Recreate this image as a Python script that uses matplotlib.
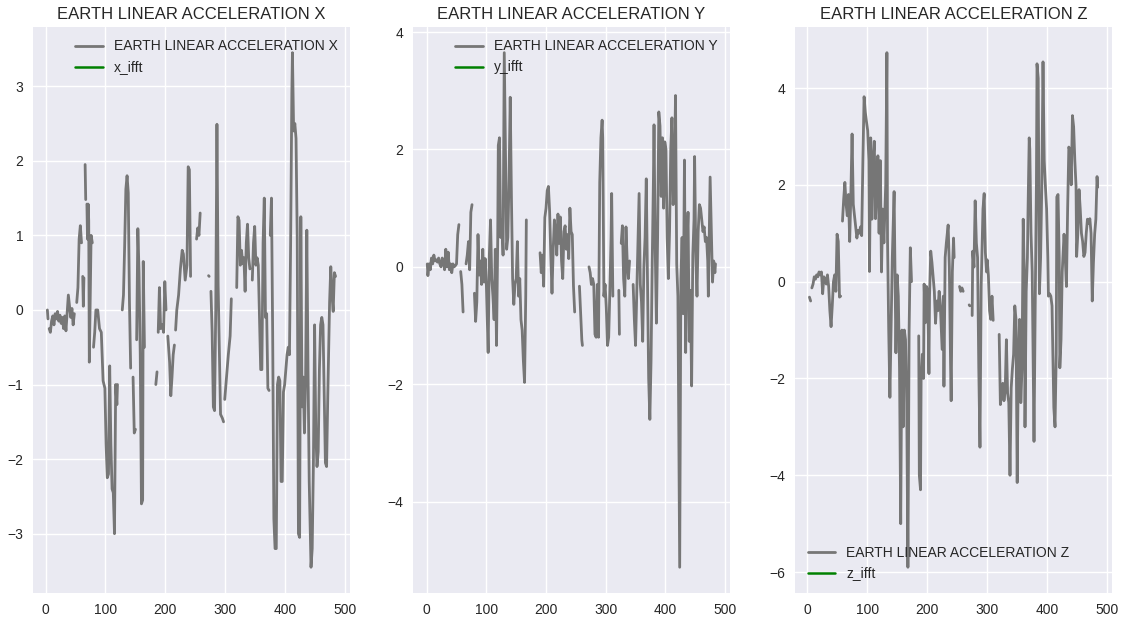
import numpy as np
import matplotlib
matplotlib.use("Agg")
import matplotlib.pyplot as plt

nan = np.nan

# earth-frame linear acceleration, sample index vs value (nan = dropped samples)
acc_x_t = [3, 4, 5, 6, 8, 10, 12, 14, 16, 18, 20, 22, 24, 26, 28, 30, 32, 34, 36, 38, 40, 42, 44, 46, 48,
           50, 52, 54, 56, 58, 60, 61, 62, 63, 64, 65, 66, 67, 68, 69, 70, 71, 72, 73, 75, 76, 78,
           79, 80, 82, 84, 87, 90, 93, 96, 99, 101, 103, 105, 107, 109, 111, 113, 115, 117, 119, 120,
           121, 128, 130, 132, 134, 136, 138, 140, 142, 144, 146, 148, 150, 151, 152, 154, 156, 158,
           160, 162, 163, 165, 166, 184, 186, 187, 188, 190, 192, 195, 197, 199, 201, 202, 204, 207,
           209, 211, 213, 215, 216, 217, 219, 222, 225, 228, 230, 233, 236, 238, 240, 242, 243, 252,
           254, 256, 258, 259, 272, 273, 274, 276, 278, 280, 282, 284, 286, 288, 290, 292, 295, 297,
           298, 299, 302, 305, 308, 310, 311, 319, 321, 323, 325, 327, 329, 331, 333, 335, 337, 339,
           341, 342, 345, 347, 349, 351, 353, 355, 357, 359, 361, 363, 365, 367, 369, 371, 373, 374,
           375, 377, 379, 381, 383, 385, 387, 389, 391, 393, 395, 397, 399, 401, 403, 405, 407, 409,
           411, 412, 414, 416, 418, 420, 422, 424, 426, 428, 430, 432, 434, 436, 438, 440, 443, 445,
           447, 449, 451, 453, 455, 457, 459, 461, 463, 465, 467, 469, 471, 474, 476, 478, 480, 482, 484]
acc_x = [0.0, -0.12, nan, -0.25, -0.3, -0.15, -0.08, -0.2, -0.05, -0.12, -0.02, -0.15, -0.07, -0.18, -0.1,
         -0.25, -0.08, -0.28, -0.05, 0.2, 0.05, -0.1, 0.02, -0.2, -0.05,
         nan, 0.1, 0.3, 0.95, 1.13, 0.9, nan, 0.45, 0.05, 0.43, nan, 1.95, 1.48, nan, 1.42, 0.95, 1.42,
         1.2, -0.7, 0.5, 1.0, 0.9,
         nan, -0.5, -0.3, 0.0, 0.0, -0.25, -0.3, -0.95, -1.05, -1.8, -2.25, -2.2, -0.75, -1.8, -2.4,
         -2.45, -3.0, -1.0, -1.27, -1.0,
         nan, 0.0, 0.2, 0.87, 1.62, 1.8, 1.57, 0.1, -0.78, nan, -0.9, -1.65, -1.6, nan, -0.4, 1.09,
         0.5, -0.6,
         -2.6, -2.55, 0.65, -0.5, nan, -1.0, -0.83, nan, -0.3, 0.3, -0.25, -0.2, -0.3, 0.38, 0.0, nan,
         -0.35, -0.7,
         -1.15, -0.9, -0.6, -0.47, nan, -0.27, 0.0, 0.2, 0.55, 0.8, 0.75, 0.4, 0.6, 1.92, 1.88, 0.45,
         nan, 0.95,
         1.1, 1.0, 1.3, nan, 0.46, 0.45, nan, 0.25, -0.3, -1.3, -1.35, 0.0, 2.49, 0.33, -0.5, -1.4,
         -1.45, -1.5,
         nan, -1.2, -0.9, -0.6, -0.35, 0.15, nan, 0.3, 1.25, 1.2, 0.6, 0.8, 0.62, 0.7, 0.25, 0.9,
         1.15, 0.7,
         0.55, nan, 0.4, 0.9, 1.12, 0.6, 0.7, 0.6, -0.1, -0.8, -0.8, 0.9, 1.5, -0.1, -0.05, -1.05,
         -1.08, nan,
         1.0, 1.5, -0.3, -2.8, -3.2, -3.2, -1.0, -0.9, -0.95, -2.3, -2.3, -1.1, -1.0, -0.8, -0.6,
         -0.5, -0.6, 0.9,
         2.9, 3.45, 2.4, 2.5, 2.3, 0.96, -3.0, -3.05, 1.25, -1.3, -0.9, -1.65, -0.9, 1.07, -0.8,
         -2.3, -3.45, -3.2,
         -2.05, -0.2, -1.65, -2.1, -1.9, -0.8, -0.2, -0.1, -0.2, -1.1, -2.05, -2.1, -1.15, 0.1, 0.58,
         0.2, -0.02, 0.5, 0.45]

acc_y_t = [1, 2, 4, 6, 8, 10, 12, 14, 16, 18, 20, 22, 24, 26, 28, 30, 32, 34, 36, 38, 40, 42, 44, 46, 48,
           50, 52, 54, 55, 57, 59, 61, 62, 63, 64, 66, 68, 70, 72, 74, 76, 77, 80, 82, 84, 86, 88, 90,
           92, 94, 96, 98, 100, 103, 105, 107, 109, 111, 113, 115, 117, 119, 120, 122, 124, 126, 128,
           130, 132, 134, 136, 138, 140, 142, 144, 146, 148, 150, 152, 154, 156, 158, 160, 162, 164,
           166, 167, 168, 184, 185, 187, 188, 190, 192, 194, 196, 198, 200, 202, 204, 206, 208, 210,
           212, 214, 216, 218, 220, 222, 224, 226, 228, 230, 232, 234, 236, 238, 240, 242, 244, 246,
           248, 249, 256, 258, 260, 261, 262, 272, 274, 276, 278, 280, 282, 284, 286, 288, 290, 292,
           294, 295, 297, 299, 301, 303, 305, 307, 309, 310, 312, 313, 322, 323, 324, 326, 328, 330,
           332, 334, 336, 338, 340, 341, 346, 348, 350, 352, 354, 356, 358, 360, 362, 364, 366, 368,
           370, 372, 374, 376, 378, 380, 381, 383, 385, 387, 389, 391, 393, 395, 397, 399, 401, 403,
           405, 407, 409, 411, 413, 415, 417, 419, 421, 424, 426, 428, 430, 432, 434, 436, 438, 440,
           442, 444, 446, 448, 449, 451, 453, 455, 457, 459, 461, 463, 465, 467, 469, 471, 472, 474,
           475, 477, 479, 481, 483, 484]
acc_y = [0.05, -0.15, 0.05, -0.05, 0.15, 0.05, 0.2, 0.1, 0.12, 0.08, 0.15, 0.05, 0.0, 0.15, 0.1, -0.05,
         0.3, 0.0, 0.25, -0.05, 0.05, -0.1, 0.05, 0.0, 0.02,
         0.05, 0.55, 0.72, nan, -0.08, -0.3, -0.77, nan, -0.3, nan, 0.05, 0.2, 0.43, -0.05, 0.93, 1.06,
         nan, -0.45, -0.93, -0.6, 0.55, -0.14, 0.1,
         -0.3, 0.3, -0.26, 0.14, -0.3, -1.46, 0.2, 0.8, -0.2, -0.5, -0.9, 0.3, -1.34, 0.43, 2.07, 2.2,
         0.5, 0.8, 0.2,
         3.65, 2.0, 0.3, 0.5, 1.5, 2.89, 1.2, -0.2, -0.64, -0.3, -0.2, 0.43, -0.5, -0.2, -0.9, -1.08,
         -1.6, -1.97,
         -0.5, 0.8, nan, -0.67, nan, -0.93, nan, 0.24, -0.1, 0.2, -0.33, 0.84, 1.0, 1.3, 1.37, 0.95,
         0.2, -0.45,
         0.3, 0.8, 0.6, 0.2, 0.9, 0.4, 0.85, 0.1, -0.2, 0.6, 0.7, 0.3, 0.55, 0.14, 1.0, 0.6, 0.55,
         -0.33,
         -0.77, nan, -0.33, -0.8, -1.25, -1.34, nan, 0.0, -0.1, -0.3, -0.2, -0.3, -1.15, -1.2, -0.3,
         -1.2, 1.44, 2.2,
         2.5, 2.2, -0.5, -0.3, -0.7, -1.34, -1.2, -0.4, 0.5, 1.25, -0.5, nan, -0.4, -1.15, nan, 0.4,
         0.7, -0.2,
         -0.5, 0.68, 0.1, -0.2, 0.1, nan, -0.3, -0.9, -1.34, -0.5, 0.3, 1.25, -0.3, -0.6, -1.27, 0.0,
         0.5, 1.5,
         -0.2, -1.9, -2.6, -1.6, 0.1, 1.5, 2.42, 0.3, -0.96, 0.5, 2.64, 2.4, 1.2, 2.2, 1.0, 2.13, 2.0,
         0.5,
         -0.2, 0.6, 2.0, 2.54, 1.06, 1.5, 2.92, 0.05, -0.5, -5.12, -0.2, 0.5, -0.8, 1.82, -1.46, 0.3,
         0.93, -1.27,
         -0.4, -2.03, 0.2, 0.8, 1.88, 0.2, -0.5, 0.6, 1.06, 1.0, 0.8, 0.6, 0.68, 0.43, 0.5, 0.1, -0.5,
         0.8,
         1.53, 0.6, -0.26, 0.1, -0.1, 0.05]

acc_z_t = [4, 6, 7, 8, 10, 12, 14, 16, 18, 20, 22, 24, 26, 28, 30, 32, 34, 36, 38, 40, 42, 44, 46, 48,
           50, 52, 54, 56, 57, 59, 61, 63, 65, 67, 69, 71, 73, 75, 77, 79, 81, 83, 85, 87, 89, 91,
           93, 95, 97, 99, 101, 103, 104, 106, 108, 110, 112, 114, 116, 118, 120, 122, 124, 126,
           128, 131, 133, 134, 136, 138, 140, 142, 145, 148, 150, 152, 154, 156, 158, 160, 162,
           164, 166, 168, 170, 172, 174, 175, 186, 187, 189, 190, 192, 194, 195, 197, 199, 201,
           203, 204, 206, 208, 210, 212, 214, 216, 218, 220, 222, 225, 227, 228, 230, 232, 235,
           237, 239, 240, 242, 244, 245, 246, 254, 256, 258, 260, 261, 270, 271, 272, 275, 276,
           278, 280, 282, 284, 286, 288, 290, 293, 295, 297, 299, 300, 302, 304, 306, 308, 310,
           311, 320, 322, 324, 326, 328, 330, 332, 334, 336, 338, 340, 342, 344, 346, 348, 350,
           352, 354, 356, 358, 360, 362, 363, 365, 367, 368, 370, 371, 373, 375, 377, 378, 380,
           382, 383, 385, 387, 389, 391, 393, 395, 397, 399, 401, 402, 404, 406, 408, 410, 411,
           413, 415, 416, 418, 420, 421, 423, 425, 428, 430, 432, 434, 436, 438, 440, 442, 444,
           446, 448, 449, 451, 453, 455, 457, 459, 461, 463, 465, 467, 469, 471, 473, 475, 477,
           479, 481, 483, 484]
acc_z = [-0.32, -0.4, nan, -0.13, -0.05, 0.1, 0.05, 0.14, 0.1, 0.2, 0.14, 0.2, -0.25, 0.1, 0.05, -0.05,
         0.14, -0.1, -0.6, -0.93, -0.5, 0.0, 0.14, -0.2,
         0.98, 0.83, -0.32, -0.3, nan, 1.25, 1.7, 2.05, 1.6, 1.36, 1.8, 0.83, 1.82, 3.05, 1.6, 1.36,
         1.13, 0.9, 1.06, 1.0, 1.13, 0.95,
         2.5, 3.82, 3.5, 3.3, 3.12, 2.5, 0.21, 2.97, 1.29, 2.5, 2.9, 1.3, 2.0, 2.6, 1.0, 2.5, 0.2, 1.5,
         0.8, 2.0, 4.73, 0.9, -1.0, -2.39, -1.0, 0.5, 1.86, -1.47, 0.14, -0.3, -1.8, -5.0, -1.0, -3.0,
         -1.0,
         -1.2, -2.5, -5.9, -1.0, 0.7, 0.0, nan, -1.12, -4.0, -4.3, -1.97, -1.5, -2.0, -0.05, -0.85,
         -0.1, -0.2,
         -1.9, -0.3, 0.63, 0.4, 0.1, -0.2, -0.86, -0.4, -0.6, -0.2, -0.5, -1.4, -0.3, -2.16, 0.5, 0.8,
         1.17,
         0.3, -1.7, -2.46, 0.2, 0.9, 0.5, nan, -0.1, -0.2, -0.13, -0.2, nan, -0.48, -0.5, nan, -0.7,
         0.63,
         0.3, 1.67, 0.8, 0.5, -1.78, -3.42, -0.1, 1.5, 1.82, 0.6, 0.2, 0.45, 0.13, -0.6, -0.78, -0.3,
         -0.8,
         nan, -1.09, -2.54, -2.3, -2.1, -2.46, -2.24, -1.2, -2.3, -2.5, -4.0, -2.2, -1.8, -1.5, -0.5,
         -0.78, -4.15,
         -1.5, -0.78, -2.5, -1.8, 1.29, 0.0, -3.0, -0.2, 0.5, 1.44, 2.97, 2.74, 1.0, 0.2, -2.0, -3.3,
         -0.5,
         2.0, 4.5, 4.2, -0.25, 0.5, 2.0, 4.54, 2.5, 1.97, 1.5, 0.5, -0.3, -0.25, -0.3, -0.5, -1.9,
         -2.6,
         -3.0, -1.5, 1.75, 1.8, 0.5, -1.78, -1.2, 0.2, 0.98, 0.5, -0.1, 1.5, 2.78, 2.7, 2.0, 3.43,
         3.2,
         2.5, 1.97, 0.52, 1.0, 1.9, 1.5, 1.0, 0.83, 0.52, 0.6, 1.0, 1.29, 1.2, 1.3, 1.0, -0.4, 0.4,
         0.98, 1.29, 2.17, 1.95]

titles = ["EARTH LINEAR ACCELERATION X", "EARTH LINEAR ACCELERATION Y",
          "EARTH LINEAR ACCELERATION Z"]
ifft_labels = ["x_ifft", "y_ifft", "z_ifft"]
legend_locs = ["upper right", "upper right", "lower left"]

plt.style.use("seaborn-v0_8")
plt.rcParams["font.family"] = ["Liberation Sans", "DejaVu Sans"]

fig = plt.figure(figsize=(11.25, 6.18), dpi=100)
lefts = [0.0293, 0.367, 0.7067]
series = [(acc_x_t, acc_x), (acc_y_t, acc_y), (acc_z_t, acc_z)]

for left, (t, v), title, ifl, loc in zip(lefts, series, titles, ifft_labels, legend_locs):
    ax = fig.add_axes([left, 0.0405, 0.2818, 0.9159])
    ax.plot(t, v, color="#767676", lw=2.0, label=title)
    # the filtered signal comes out empty, only its legend entry shows
    ax.plot([], [], color="green", lw=1.8, label=ifl)
    ax.set_title(title, fontsize=12)
    ax.tick_params(labelsize=10)
    ax.legend(loc=loc, fontsize=10)

fig.savefig("out.png", dpi=100)
